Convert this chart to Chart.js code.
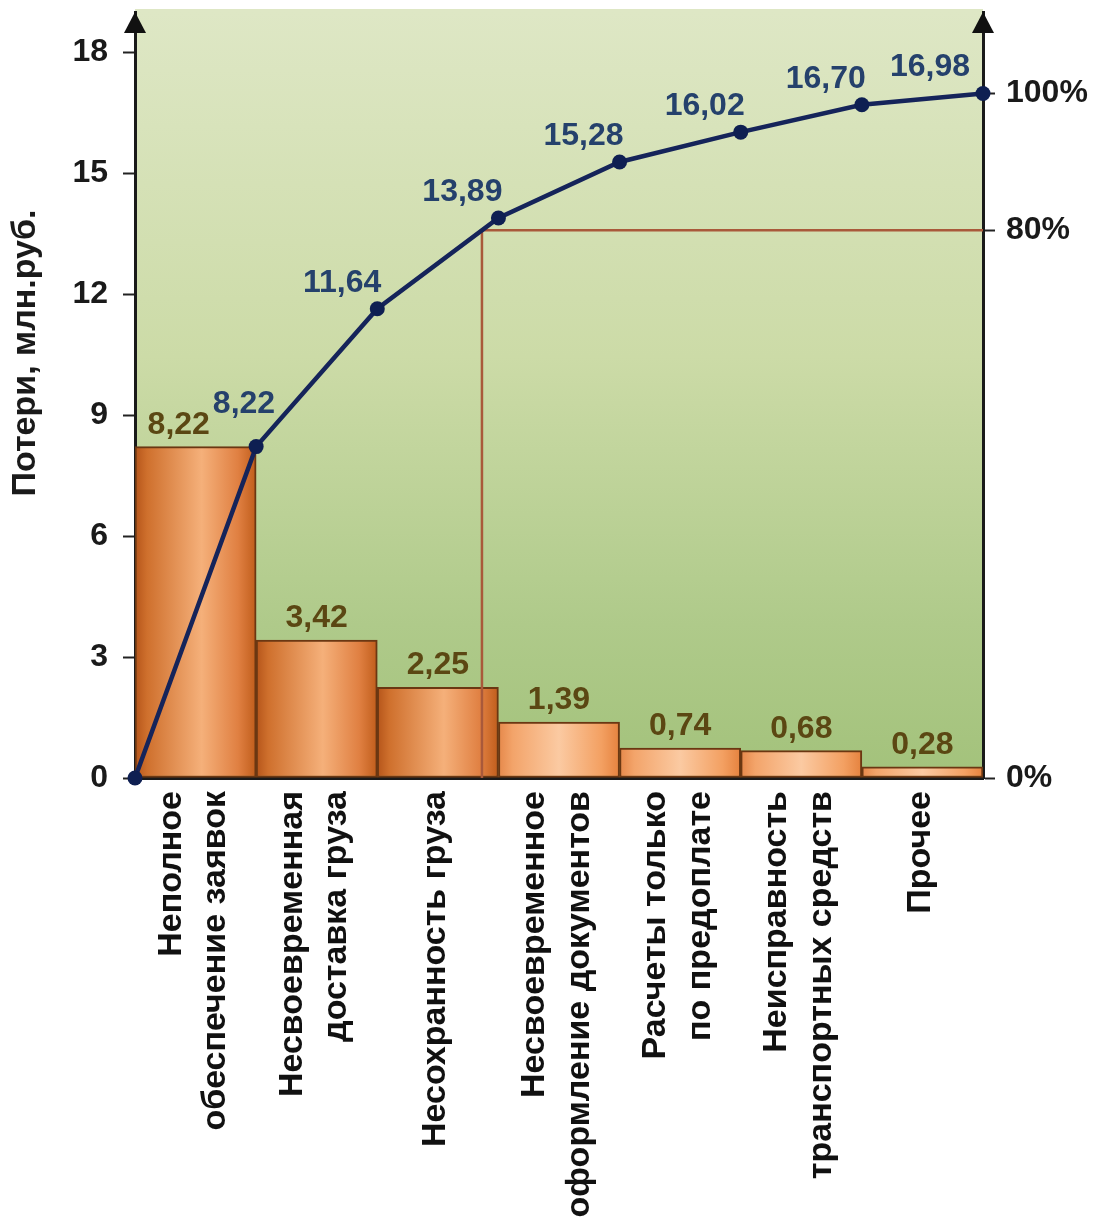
<!DOCTYPE html>
<html lang="ru">
<head>
<meta charset="utf-8">
<title>Потери, млн.руб.</title>
<script src="https://cdn.jsdelivr.net/npm/chart.js@4.4.1/dist/chart.umd.min.js"></script>
<style>
  html, body { margin: 0; padding: 0; background: #ffffff; }
  #c { display: block; }
</style>
</head>
<body>
<canvas id="c" width="1097" height="1219"></canvas>
<script>
// Loss causes (Pareto order), loss per cause and the running total, mln rub.
const categories = [
  ['Неполное', 'обеспечение заявок'],
  ['Несвоевременная', 'доставка груза'],
  ['Несохранность груза'],
  ['Несвоевременное', 'оформление документов'],
  ['Расчеты только', 'по предоплате'],
  ['Неисправность', 'транспортных средств'],
  ['Прочее']
];
const losses = [8.22, 3.42, 2.25, 1.39, 0.74, 0.68, 0.28];
const cumulative = [0, 8.22, 11.64, 13.89, 15.28, 16.02, 16.70, 16.98];
const leftTicks = [0, 3, 6, 9, 12, 15, 18];
const rightTicks = [0, 80, 100];
const paretoShare = 80;
const yTitle = 'Потери, млн.руб.';

const FONT = "'Liberation Sans', Arial, Helvetica, sans-serif";
const CAT_SIZE = 34;
const CAT_LH = 1.31;
const CAT_LINE = CAT_SIZE * CAT_LH;
const VALUE_FONT = `bold 32px ${FONT}`;
const fmt = v => v.toFixed(2).replace('.', ',');

const total = cumulative[cumulative.length - 1];
const threshold = total * paretoShare / 100;

// where the cumulative curve reaches the 80 % level
let crossAt = 0;
for (let i = 0; i < cumulative.length - 1; i++) {
  if (cumulative[i] < threshold && cumulative[i + 1] >= threshold) {
    crossAt = i + (threshold - cumulative[i]) / (cumulative[i + 1] - cumulative[i]);
    break;
  }
}

const Y_MAX = 19;

const vitalStops = [[0, '#b5551a'], [0.1, '#cf702d'], [0.55, '#f5b07a'], [0.85, '#e08042'], [1, '#c05d1b']];
const minorStops = [[0, '#e6884a'], [0.12, '#f3a46a'], [0.5, '#fbcaa2'], [0.85, '#f3a062'], [1, '#e5823e']];

function barFill(ctx) {
  const chart = ctx.chart;
  const xs = chart.scales.x;
  if (ctx.type !== 'data' || !chart.chartArea || !xs) return '#ee9a5c';
  const i = ctx.dataIndex;
  const c = xs.getPixelForValue(i);
  const half = (chart.chartArea.right - chart.chartArea.left) / categories.length / 2;
  const g = chart.ctx.createLinearGradient(c - half, 0, c + half, 0);
  (cumulative[i] < threshold ? vitalStops : minorStops).forEach(([o, col]) => g.addColorStop(o, col));
  return g;
}

function fixSize(size) {
  return scale => {
    if (scale.isHorizontal()) scale.height = size; else scale.width = size;
    scale.paddingTop = 0; scale.paddingBottom = 0;
    scale.paddingLeft = 0; scale.paddingRight = 0;
  };
}

const plotBackground = {
  id: 'plotBackground',
  beforeDraw(chart) {
    const { ctx, chartArea: a } = chart;
    const g = ctx.createLinearGradient(0, a.top, 0, a.bottom);
    g.addColorStop(0, '#dee7c5');
    g.addColorStop(0.45, '#ccdba7');
    g.addColorStop(0.8, '#afca8a');
    g.addColorStop(1, '#a3c27b');
    ctx.save();
    ctx.fillStyle = g;
    ctx.fillRect(a.left, a.top - 3, a.right - a.left, a.bottom - a.top + 3);
    ctx.restore();
  }
};

const valueLabels = {
  id: 'valueLabels',
  afterDatasetsDraw(chart) {
    const ctx = chart.ctx;
    const a = chart.chartArea;
    ctx.save();
    ctx.font = VALUE_FONT;
    ctx.textBaseline = 'alphabetic';
    const taken = [];
    const line = chart.getDatasetMeta(2).data;
    line.forEach((pt, i) => {
      if (i === 0) return;
      const prev = line[i - 1];
      const steep = Math.abs((pt.y - prev.y) / (pt.x - prev.x)) > 2;
      const right = Math.min(steep ? pt.x + 19 : pt.x + 4, a.right - 13);
      const base = steep ? pt.y - 34 : pt.y - 17;
      const text = fmt(cumulative[i]);
      const w = ctx.measureText(text).width;
      ctx.textAlign = 'right';
      ctx.fillStyle = '#25416c';
      ctx.fillText(text, right, base);
      taken.push({ l: right - w, r: right, t: base - 24, b: base });
    });
    chart.getDatasetMeta(0).data.forEach((bar, i) => {
      const text = fmt(losses[i]);
      const w = ctx.measureText(text).width;
      const base = bar.y - 13;
      let cx = bar.x;
      taken.forEach(box => {
        const l = cx - w / 2, r = cx + w / 2;
        if (r > box.l - 3 && l < box.r && base > box.t && base - 24 < box.b) {
          cx -= r - (box.l - 3);
        }
      });
      ctx.textAlign = 'center';
      ctx.fillStyle = '#5b4713';
      ctx.fillText(text, cx, base);
    });
    ctx.restore();
  }
};

const axisDecor = {
  id: 'axisDecor',
  afterDraw(chart) {
    const { ctx, chartArea: a } = chart;
    ctx.save();
    ctx.fillStyle = '#111111';
    [a.left, a.right].forEach(x => {
      ctx.beginPath();
      ctx.moveTo(x, a.top);
      ctx.lineTo(x - 11, a.top + 21);
      ctx.lineTo(x + 11, a.top + 21);
      ctx.closePath();
      ctx.fill();
    });
    ctx.translate(26, 353);
    ctx.rotate(-Math.PI / 2);
    ctx.font = `bold 34px ${FONT}`;
    ctx.textAlign = 'center';
    ctx.textBaseline = 'middle';
    ctx.fillStyle = '#1a1a1a';
    ctx.fillText(yTitle, 0, 0);
    ctx.restore();
  }
};

new Chart(document.getElementById('c'), {
  type: 'bar',
  data: {
    labels: categories.map(c => c.join(' ')),
    datasets: [
      {
        type: 'bar',
        data: losses,
        xAxisID: 'x',
        yAxisID: 'y',
        backgroundColor: barFill,
        borderColor: '#6b3712',
        borderWidth: 2,
        borderSkipped: false,
        grouped: false,
        barPercentage: 1,
        categoryPercentage: 1,
        order: 3
      },
      {
        type: 'line',
        data: [{ x: crossAt, y: 0 }, { x: crossAt, y: threshold }, { x: cumulative.length - 1, y: threshold }],
        xAxisID: 'x2',
        yAxisID: 'y',
        borderColor: '#a9593a',
        borderWidth: 2.5,
        pointRadius: 0,
        tension: 0,
        fill: false,
        clip: false,
        order: 2
      },
      {
        type: 'line',
        data: cumulative.map((v, i) => ({ x: i, y: v })),
        xAxisID: 'x2',
        yAxisID: 'y',
        borderColor: '#15245a',
        borderWidth: 4.5,
        pointRadius: 7.5,
        pointBackgroundColor: '#0e1f52',
        pointBorderWidth: 0,
        tension: 0,
        fill: false,
        clip: false,
        order: 1
      }
    ]
  },
  options: {
    responsive: false,
    devicePixelRatio: 1,
    animation: false,
    layout: { padding: { top: 12, left: 0, right: 0, bottom: 0 } },
    plugins: { legend: { display: false }, tooltip: { enabled: false } },
    scales: {
      x: {
        type: 'category',
        position: 'bottom',
        offset: true,
        grid: { display: false, drawTicks: false },
        border: { display: true, color: '#1a1a1a', width: 3 },
        ticks: {
          autoSkip: false,
          minRotation: 90,
          maxRotation: 90,
          padding: 13,
          color: '#111111',
          // two-line names are centred on the bar; one-line names sit in a
          // half-height second row so they land on the same centre line
          labelOffset: -CAT_LINE / 2 - 2,
          font: ctx => ({
            family: FONT,
            size: CAT_SIZE,
            weight: 'bold',
            lineHeight: (categories[ctx.index] || []).length > 1 ? CAT_LH : CAT_LH / 2
          }),
          callback: (v, i) => categories[i].length > 1 ? categories[i] : ['', categories[i][0]]
        },
        afterFit: fixSize(441)
      },
      x2: {
        type: 'linear',
        display: false,
        offset: false,
        min: 0,
        max: cumulative.length - 1
      },
      y: {
        type: 'linear',
        position: 'left',
        min: 0,
        max: Y_MAX,
        afterBuildTicks: s => { s.ticks = leftTicks.map(v => ({ value: v })); },
        grid: { display: true, drawOnChartArea: false, drawTicks: true, tickLength: 12, tickWidth: 2, tickColor: '#222222', color: '#222222' },
        border: { display: true, color: '#1a1a1a', width: 3 },
        ticks: { padding: 15, color: '#1a1a1a', font: { family: FONT, size: 32, weight: 'bold' } },
        afterFit: fixSize(135)
      },
      y2: {
        type: 'linear',
        position: 'right',
        min: 0,
        max: Y_MAX / total * 100,
        afterBuildTicks: s => { s.ticks = rightTicks.map(v => ({ value: v })); },
        grid: { display: true, drawOnChartArea: false, drawTicks: true, tickLength: 12, tickWidth: 2, tickColor: '#222222', color: '#222222' },
        border: { display: true, color: '#1a1a1a', width: 3 },
        ticks: { padding: 11, color: '#1a1a1a', font: { family: FONT, size: 32, weight: 'bold' }, callback: v => v + '%' },
        afterFit: fixSize(114)
      }
    }
  },
  plugins: [plotBackground, valueLabels, axisDecor]
});
</script>
</body>
</html>
